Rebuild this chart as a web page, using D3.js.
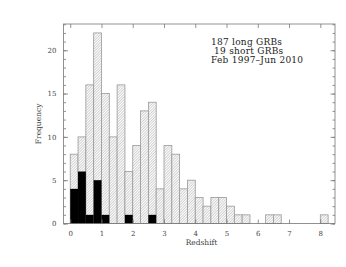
<!DOCTYPE html>
<html>
<head>
<meta charset="utf-8">
<script src="https://cdn.jsdelivr.net/npm/d3@7"></script>
<style>
  body { margin: 0; background: #fff; }
  text { font-family: "DejaVu Serif", serif; fill: #444; }
</style>
</head>
<body>
<div id="chart"></div>
<script>
// bin edges (redshift, width 0.25) and counts
var binWidth = 0.25;
var longStarts = [0, 0.25, 0.5, 0.75, 1.0, 1.25, 1.5, 1.75, 2.0, 2.25, 2.5, 2.75, 3.0, 3.25, 3.5, 3.75, 4.0, 4.25, 4.5, 4.75, 5.0, 5.25, 5.5, 6.25, 6.5, 8.0];
var longCounts = [8, 10, 16, 22, 15, 10, 16, 6, 9, 13, 14, 4, 9, 8, 4, 5, 3, 2, 3, 3, 2, 1, 1, 1, 1, 1];
var shortStarts = [0, 0.25, 0.5, 0.75, 1.0, 1.75, 2.5];
var shortCounts = [4, 6, 1, 5, 1, 1, 1];
var xTicks = [0, 1, 2, 3, 4, 5, 6, 7, 8];
var yTicks = [0, 5, 10, 15, 20];
var notes = ["187 long GRBs", " 19 short GRBs", "Feb 1997\u2013Jun 2010"];

var width = 346, height = 267;
var margin = {top: 24, right: 11, bottom: 43.5, left: 63.5};

var svg = d3.select("#chart").append("svg")
    .attr("width", width)
    .attr("height", height);

var defs = svg.append("defs");
var pat = defs.append("pattern")
    .attr("id", "hatch")
    .attr("patternUnits", "userSpaceOnUse")
    .attr("width", 1.9)
    .attr("height", 1.9)
    .attr("patternTransform", "rotate(45)");
pat.append("rect").attr("width", 1.9).attr("height", 1.9).attr("fill", "#fff");
pat.append("line")
    .attr("x1", 0).attr("y1", 0).attr("x2", 0).attr("y2", 1.9)
    .attr("stroke", "#8a8a8a").attr("stroke-width", 0.75);

var x = d3.scaleLinear()
    .domain([-0.215, 8.47])
    .range([margin.left, width - margin.right]);

var y = d3.scaleLinear()
    .domain([0, 23.03])
    .range([height - margin.bottom, margin.top]);

var longData = longStarts.map(function (d, i) { return {x0: d, n: longCounts[i]}; });
var shortData = shortStarts.map(function (d, i) { return {x0: d, n: shortCounts[i]}; });

svg.append("g").selectAll("rect")
    .data(longData)
    .enter()
    .append("rect")
    .attr("x", function (d) { return x(d.x0); })
    .attr("y", function (d) { return y(d.n); })
    .attr("width", function (d) { return x(d.x0 + binWidth) - x(d.x0); })
    .attr("height", function (d) { return y(0) - y(d.n); })
    .attr("fill", "url(#hatch)")
    .attr("stroke", "#999")
    .attr("stroke-width", 0.8);

svg.append("g").selectAll("rect")
    .data(shortData)
    .enter()
    .append("rect")
    .attr("x", function (d) { return x(d.x0); })
    .attr("y", function (d) { return y(d.n); })
    .attr("width", function (d) { return x(d.x0 + binWidth) - x(d.x0); })
    .attr("height", function (d) { return y(0) - y(d.n); })
    .attr("fill", "#000");

// axes: PGPLOT style, ticks inside, on all four sides
var axisColor = "#777";

svg.append("g")
    .attr("transform", "translate(0," + y(0) + ")")
    .call(d3.axisBottom(x).tickValues(xTicks).tickSize(-4).tickPadding(8).tickFormat(d3.format("d")));
svg.append("g")
    .attr("transform", "translate(0," + margin.top + ")")
    .call(d3.axisTop(x).tickValues(xTicks).tickSize(-4).tickFormat(""));

var yMinor = d3.range(0, 24);
svg.append("g")
    .attr("transform", "translate(" + margin.left + ",0)")
    .call(d3.axisLeft(y).tickValues(yMinor).tickSize(-2.5).tickFormat(""));
svg.append("g")
    .attr("transform", "translate(" + margin.left + ",0)")
    .call(d3.axisLeft(y).tickValues(yTicks).tickSize(-4.5).tickPadding(7).tickFormat(d3.format("d")));
svg.append("g")
    .attr("transform", "translate(" + (width - margin.right) + ",0)")
    .call(d3.axisRight(y).tickValues(yMinor).tickSize(-2.5).tickFormat(""));
svg.append("g")
    .attr("transform", "translate(" + (width - margin.right) + ",0)")
    .call(d3.axisRight(y).tickValues(yTicks).tickSize(-4.5).tickFormat(""));

svg.selectAll(".domain").remove();
svg.selectAll(".tick line").attr("stroke", axisColor).attr("stroke-width", 0.8);
svg.selectAll(".tick text")
    .style("font-family", "'DejaVu Serif', serif")
    .style("font-size", "7px")
    .attr("fill", "#444");

svg.append("rect")
    .attr("x", margin.left)
    .attr("y", margin.top)
    .attr("width", width - margin.left - margin.right)
    .attr("height", height - margin.top - margin.bottom)
    .attr("fill", "none")
    .attr("stroke", axisColor)
    .attr("stroke-width", 0.8);

svg.append("text")
    .attr("x", x(4.2))
    .attr("y", 245)
    .attr("text-anchor", "middle")
    .style("font-size", "7.5px")
    .text("Redshift");

svg.append("text")
    .attr("transform", "translate(41," + y(11.5) + ") rotate(-90)")
    .attr("text-anchor", "middle")
    .style("font-size", "7.5px")
    .text("Frequency");

svg.append("g").selectAll("text")
    .data(notes)
    .enter()
    .append("text")
    .attr("x", 211)
    .attr("y", function (d, i) { return 44.5 + i * 9.2; })
    .attr("xml:space", "preserve")
    .style("font-size", "9px")
    .style("letter-spacing", "0.25px")
    .style("fill", "#222")
    .text(function (d) { return d; });
</script>
</body>
</html>
